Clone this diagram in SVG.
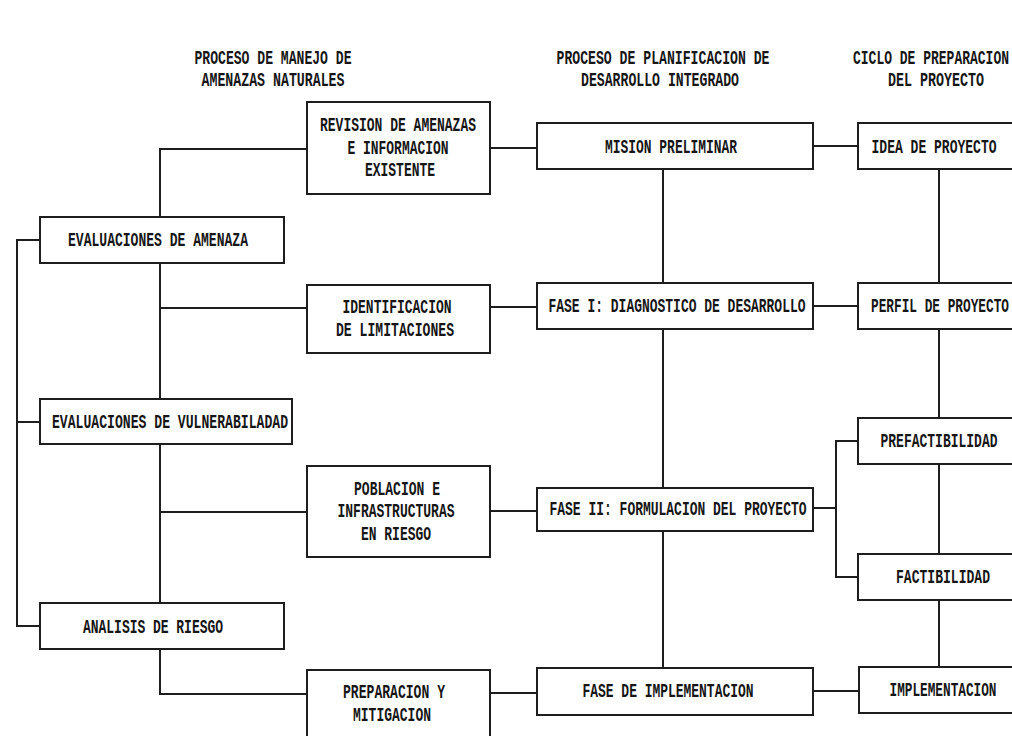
<svg xmlns="http://www.w3.org/2000/svg" width="1012" height="736" viewBox="0 0 1012 736">
  <style>
    .box { fill: #ffffff; stroke: #1e1e1e; stroke-width: 2; }
    .wire { fill: none; stroke: #1e1e1e; stroke-width: 2; }
    text { font-family: "Liberation Mono", "DejaVu Sans Mono", monospace; font-weight: bold; font-size: 20px; fill: #161616; text-anchor: middle; }
  </style>
  <rect width="1012" height="736" fill="#ffffff"/>

  <!-- column headings -->
  <g id="headings">
    <text x="273" y="64" textLength="157" lengthAdjust="spacingAndGlyphs">PROCESO DE MANEJO DE</text>
    <text x="273" y="86" textLength="143" lengthAdjust="spacingAndGlyphs">AMENAZAS NATURALES</text>
    <text x="663" y="64" textLength="213" lengthAdjust="spacingAndGlyphs">PROCESO DE PLANIFICACION DE</text>
    <text x="660" y="86" textLength="158" lengthAdjust="spacingAndGlyphs">DESARROLLO INTEGRADO</text>
    <text x="931" y="64" textLength="156" lengthAdjust="spacingAndGlyphs">CICLO DE PREPARACION</text>
    <text x="936" y="86" textLength="96" lengthAdjust="spacingAndGlyphs">DEL PROYECTO</text>
  </g>

  <!-- connectors -->
  <g id="connectors">
    <!-- hazard column spine -->
    <path class="wire" d="M307,149 H160 V217"/>
    <path class="wire" d="M160,263 V399"/>
    <path class="wire" d="M160,308 H307"/>
    <path class="wire" d="M160,444 V603"/>
    <path class="wire" d="M160,512 H307"/>
    <path class="wire" d="M160,649 V694 H307"/>
    <!-- left bus -->
    <path class="wire" d="M40,240 H17 V626 H40"/>
    <path class="wire" d="M17,422 H40"/>
    <!-- hazard boxes to planning -->
    <path class="wire" d="M490,148 H537"/>
    <path class="wire" d="M490,307 H537"/>
    <path class="wire" d="M490,511 H537"/>
    <path class="wire" d="M490,693 H537"/>
    <!-- planning spine -->
    <path class="wire" d="M663,169 V283"/>
    <path class="wire" d="M663,329 V488"/>
    <path class="wire" d="M663,531 V668"/>
    <!-- planning to project cycle -->
    <path class="wire" d="M813,146 H858"/>
    <path class="wire" d="M813,306 H858"/>
    <path class="wire" d="M813,691 H859"/>
    <path class="wire" d="M813,508 H836"/>
    <path class="wire" d="M858,441 H836 V577 H858"/>
    <!-- project cycle spine -->
    <path class="wire" d="M939,169 V283"/>
    <path class="wire" d="M939,329 V418"/>
    <path class="wire" d="M939,464 V554"/>
    <path class="wire" d="M939,600 V667"/>
  </g>

  <!-- hazard management column -->
  <g id="revision">
    <rect class="box" x="307" y="102" width="183" height="92"/>
    <text x="398" y="131" textLength="156" lengthAdjust="spacingAndGlyphs">REVISION DE AMENAZAS</text>
    <text x="398" y="154" textLength="101" lengthAdjust="spacingAndGlyphs">E INFORMACION</text>
    <text x="400" y="176" textLength="70" lengthAdjust="spacingAndGlyphs">EXISTENTE</text>
  </g>
  <g id="eval-amenaza">
    <rect class="box" x="40" y="217" width="244" height="46"/>
    <text x="158" y="246" textLength="180" lengthAdjust="spacingAndGlyphs">EVALUACIONES DE AMENAZA</text>
  </g>
  <g id="identificacion">
    <rect class="box" x="307" y="285" width="183" height="68"/>
    <text x="397" y="313" textLength="109" lengthAdjust="spacingAndGlyphs">IDENTIFICACION</text>
    <text x="395" y="336" textLength="118" lengthAdjust="spacingAndGlyphs">DE LIMITACIONES</text>
  </g>
  <g id="eval-vulnerabilidad">
    <rect class="box" x="40" y="399" width="252" height="45"/>
    <text x="170" y="428" textLength="236" lengthAdjust="spacingAndGlyphs">EVALUACIONES DE VULNERABILADAD</text>
  </g>
  <g id="poblacion">
    <rect class="box" x="307" y="466" width="183" height="91"/>
    <text x="397" y="495" textLength="86" lengthAdjust="spacingAndGlyphs">POBLACION E</text>
    <text x="396" y="517" textLength="117" lengthAdjust="spacingAndGlyphs">INFRASTRUCTURAS</text>
    <text x="396" y="540" textLength="70" lengthAdjust="spacingAndGlyphs">EN RIESGO</text>
  </g>
  <g id="analisis">
    <rect class="box" x="40" y="603" width="244" height="46"/>
    <text x="153" y="633" textLength="140" lengthAdjust="spacingAndGlyphs">ANALISIS DE RIESGO</text>
  </g>
  <g id="preparacion">
    <rect class="box" x="307" y="670" width="183" height="80"/>
    <text x="394" y="698" textLength="102" lengthAdjust="spacingAndGlyphs">PREPARACION Y</text>
    <text x="392" y="721" textLength="78" lengthAdjust="spacingAndGlyphs">MITIGACION</text>
  </g>

  <!-- integrated planning column -->
  <g id="mision">
    <rect class="box" x="537" y="123" width="276" height="46"/>
    <text x="671" y="153" textLength="132" lengthAdjust="spacingAndGlyphs">MISION PRELIMINAR</text>
  </g>
  <g id="fase-1">
    <rect class="box" x="537" y="283" width="276" height="46"/>
    <text x="677" y="312" textLength="257" lengthAdjust="spacingAndGlyphs">FASE I: DIAGNOSTICO DE DESARROLLO</text>
  </g>
  <g id="fase-2">
    <rect class="box" x="537" y="488" width="276" height="43"/>
    <text x="678" y="515" textLength="257" lengthAdjust="spacingAndGlyphs">FASE II: FORMULACION DEL PROYECTO</text>
  </g>
  <g id="fase-implementacion">
    <rect class="box" x="537" y="668" width="276" height="47"/>
    <text x="668" y="697" textLength="171" lengthAdjust="spacingAndGlyphs">FASE DE IMPLEMENTACION</text>
  </g>

  <!-- project cycle column (boxes run past the right edge) -->
  <g id="idea">
    <rect class="box" x="858" y="123" width="170" height="46"/>
    <text x="934" y="153" textLength="125" lengthAdjust="spacingAndGlyphs">IDEA DE PROYECTO</text>
  </g>
  <g id="perfil">
    <rect class="box" x="858" y="283" width="170" height="46"/>
    <text x="940" y="312" textLength="138" lengthAdjust="spacingAndGlyphs">PERFIL DE PROYECTO</text>
  </g>
  <g id="prefactibilidad">
    <rect class="box" x="858" y="418" width="170" height="46"/>
    <text x="939" y="447" textLength="117" lengthAdjust="spacingAndGlyphs">PREFACTIBILIDAD</text>
  </g>
  <g id="factibilidad">
    <rect class="box" x="858" y="554" width="170" height="46"/>
    <text x="943" y="583" textLength="94" lengthAdjust="spacingAndGlyphs">FACTIBILIDAD</text>
  </g>
  <g id="implementacion">
    <rect class="box" x="859" y="667" width="170" height="46"/>
    <text x="943" y="696" textLength="107" lengthAdjust="spacingAndGlyphs">IMPLEMENTACION</text>
  </g>
</svg>
